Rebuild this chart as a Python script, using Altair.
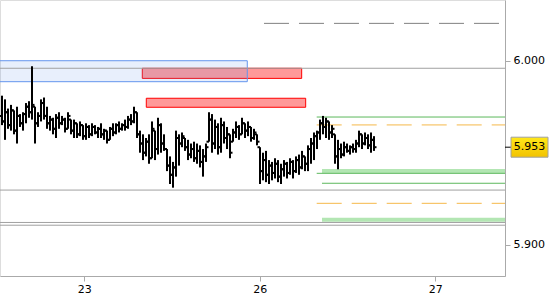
import altair as alt
import pandas as pd

# ---------------- data ----------------
# OHLC bars (intraday, evenly spaced in trading-day units; 0 = day "23")
bar_start = -0.46895
bar_step = 0.017094

highs = [5.981,5.979,5.974,5.976,5.973,5.975,5.971,5.972,5.977,5.978,
         5.997,5.975,5.972,5.979,5.980,5.975,5.970,5.969,5.971,5.972,
         5.970,5.969,5.972,5.968,5.968,5.966,5.967,5.965,5.966,5.965,
         5.966,5.965,5.964,5.966,5.963,5.962,5.964,5.966,5.966,5.967,
         5.966,5.968,5.970,5.971,5.975,5.972,5.962,5.960,5.958,5.960,
         5.967,5.962,5.969,5.966,5.960,5.952,5.948,5.945,5.962,5.960,
         5.961,5.958,5.957,5.955,5.956,5.955,5.954,5.952,5.955,5.972,
         5.971,5.968,5.966,5.969,5.967,5.964,5.960,5.963,5.967,5.965,
         5.969,5.966,5.967,5.964,5.963,5.960,5.953,5.950,5.951,5.946,
         5.945,5.947,5.946,5.944,5.946,5.945,5.947,5.946,5.948,5.949,
         5.951,5.948,5.954,5.958,5.961,5.962,5.968,5.970,5.969,5.967,
         5.965,5.960,5.957,5.955,5.956,5.955,5.954,5.955,5.957,5.962,
         5.960,5.961,5.960,5.961,5.959]

lows = [5.965,5.957,5.963,5.962,5.960,5.955,5.964,5.962,5.966,5.969,
        5.968,5.955,5.964,5.967,5.968,5.963,5.962,5.960,5.958,5.963,
        5.965,5.961,5.963,5.960,5.958,5.958,5.959,5.957,5.957,5.958,
        5.959,5.960,5.958,5.958,5.957,5.955,5.957,5.959,5.960,5.961,
        5.962,5.962,5.963,5.965,5.966,5.958,5.950,5.946,5.948,5.944,
        5.947,5.946,5.949,5.950,5.951,5.940,5.933,5.931,5.937,5.943,
        5.953,5.951,5.946,5.947,5.945,5.944,5.942,5.937,5.945,5.956,
        5.950,5.952,5.949,5.950,5.955,5.952,5.947,5.956,5.958,5.957,
        5.960,5.958,5.959,5.956,5.957,5.954,5.933,5.935,5.934,5.933,
        5.935,5.936,5.934,5.933,5.937,5.936,5.938,5.936,5.939,5.938,
        5.941,5.940,5.940,5.944,5.946,5.952,5.957,5.960,5.958,5.957,
        5.958,5.944,5.941,5.947,5.948,5.950,5.949,5.950,5.950,5.953,
        5.952,5.954,5.952,5.950,5.951]

opens = [5.970,5.967,5.972,5.965,5.973,5.962,5.970,5.966,5.971,5.975,
         5.972,5.975,5.966,5.970,5.977,5.970,5.966,5.968,5.963,5.969,
         5.966,5.968,5.963,5.968,5.962,5.966,5.960,5.965,5.959,5.964,
         5.960,5.964,5.961,5.963,5.960,5.962,5.957,5.963,5.961,5.965,
         5.963,5.965,5.964,5.968,5.967,5.972,5.960,5.955,5.950,5.956,
         5.947,5.962,5.952,5.965,5.955,5.952,5.943,5.938,5.942,5.958,
         5.955,5.958,5.953,5.949,5.952,5.947,5.951,5.945,5.948,5.956,
         5.968,5.955,5.964,5.953,5.965,5.958,5.960,5.956,5.961,5.964,
         5.960,5.966,5.962,5.964,5.958,5.960,5.953,5.940,5.946,5.938,
         5.943,5.939,5.944,5.937,5.941,5.944,5.939,5.945,5.940,5.946,
         5.942,5.948,5.944,5.952,5.955,5.959,5.961,5.966,5.964,5.967,
         5.961,5.960,5.948,5.952,5.949,5.953,5.951,5.953,5.952,5.955,
         5.960,5.955,5.958,5.954,5.957]

closes = [5.967,5.972,5.965,5.973,5.962,5.970,5.966,5.971,5.975,5.972,
          5.976,5.966,5.970,5.977,5.970,5.966,5.968,5.963,5.969,5.966,
          5.968,5.963,5.970,5.962,5.966,5.960,5.965,5.959,5.964,5.960,
          5.964,5.961,5.963,5.960,5.962,5.957,5.963,5.961,5.965,5.963,
          5.965,5.964,5.968,5.967,5.972,5.960,5.955,5.950,5.956,5.947,
          5.963,5.952,5.965,5.955,5.952,5.943,5.938,5.942,5.958,5.955,
          5.959,5.953,5.949,5.952,5.947,5.951,5.945,5.948,5.953,5.968,
          5.955,5.964,5.953,5.965,5.958,5.960,5.950,5.961,5.964,5.960,
          5.966,5.962,5.964,5.958,5.961,5.956,5.940,5.946,5.938,5.943,
          5.939,5.944,5.937,5.941,5.944,5.939,5.945,5.940,5.946,5.942,
          5.948,5.944,5.952,5.955,5.959,5.961,5.966,5.964,5.967,5.961,
          5.963,5.948,5.952,5.949,5.953,5.951,5.953,5.952,5.955,5.960,
          5.955,5.958,5.954,5.957,5.953]

# x axis (trading days, gaps removed)
day_ticks = [0, 1, 2]
day_labels = ["23", "26", "27"]
# y axis
price_ticks = [5.900, 6.000]
last_price = [5.953]

# full-width gray levels
gray_levels = [5.9959, 5.9297, 5.9121, 5.9106]
# gray dashed level (top)
gray_dash_y = [6.0203]
gray_dash_x = [1.0239]
# green levels
green_y = [5.9694, 5.9388, 5.9334]
green_x = [1.3242, 1.3242, 1.3544]
# orange dashed levels
orange_y = [5.9651, 5.9225]
orange_x = [1.3242, 1.3242]
# green zones
gzone_top = [5.9412, 5.9147]
gzone_bot = [5.9388, 5.9125]
gzone_x = [1.3544, 1.3544]
# red zones
rzone_top = [5.9959, 5.9796]
rzone_bot = [5.9904, 5.9747]
rzone_x1 = [0.3305, 0.3533]
rzone_x2 = [1.2387, 1.2615]
# blue zone
bzone_top = [6.0000]
bzone_bot = [5.9886]
bzone_x1 = [-0.6]
bzone_x2 = [0.9288]

X_MIN, X_MAX = -0.4803, 2.3972
Y_MIN, Y_MAX = 5.883, 6.033

# ---------------- frames ----------------
bars = pd.DataFrame({
    "t": [bar_start + i * bar_step for i in range(len(highs))],
    "o": opens, "h": highs, "l": lows, "c": closes,
})
gray_df = pd.DataFrame({"y": gray_levels})
gdash_df = pd.DataFrame({"y": gray_dash_y, "x1": gray_dash_x, "x2": [X_MAX] * len(gray_dash_y)})
green_df = pd.DataFrame({"y": green_y, "x1": green_x, "x2": [X_MAX] * len(green_y)})
orange_df = pd.DataFrame({"y": orange_y, "x1": orange_x, "x2": [X_MAX] * len(orange_y)})
gzone_df = pd.DataFrame({"y1": gzone_top, "y2": gzone_bot, "x1": gzone_x, "x2": [X_MAX] * len(gzone_x)})
rzone_df = pd.DataFrame({"y1": rzone_top, "y2": rzone_bot, "x1": rzone_x1, "x2": rzone_x2})
bzone_df = pd.DataFrame({"y1": bzone_top, "y2": bzone_bot, "x1": bzone_x1, "x2": bzone_x2})
last_df = pd.DataFrame({"p": last_price})

xs = alt.Scale(domain=[X_MIN, X_MAX], nice=False, zero=False)
ys = alt.Scale(domain=[Y_MIN, Y_MAX], nice=False, zero=False)

label_expr = "'" + day_labels[-1] + "'"
for v, lab in reversed(list(zip(day_ticks[:-1], day_labels[:-1]))):
    label_expr = f"datum.value == {v} ? '{lab}' : " + label_expr

AX = dict(domainColor="#aaaaaa", tickColor="#aaaaaa", tickSize=5, grid=False,
          labelFont="DejaVu Sans", labelFontSize=11, labelColor="#000000", title=None)
x_axis = alt.Axis(values=day_ticks, labelExpr=label_expr, orient="bottom", labelPadding=2, **AX)
y_axis = alt.Axis(values=price_ticks, format=".3f", orient="right", labelPadding=3, **AX)


def X(f):
    return alt.X(f, type="quantitative", scale=xs, axis=x_axis)


def Y(f):
    return alt.Y(f, type="quantitative", scale=ys, axis=y_axis)


red_zones = alt.Chart(rzone_df).mark_rect(
    fill="#ff0000", fillOpacity=0.4, stroke="#ff0000", strokeWidth=1
).encode(x=X("x1"), x2="x2", y=Y("y1"), y2="y2")

blue_zone = alt.Chart(bzone_df).mark_rect(
    fill="#6495ed", fillOpacity=0.15, stroke="#6495ed", strokeWidth=1, clip=True
).encode(x=X("x1"), x2="x2", y=Y("y1"), y2="y2")

green_zones = alt.Chart(gzone_df).mark_rect(fill="#b3e6b3").encode(
    x=X("x1"), x2="x2", y=Y("y1"), y2="y2")

gray_lines = alt.Chart(gray_df).mark_rule(color="#a0a0a0", strokeWidth=1).encode(y=Y("y"))

gray_dash = alt.Chart(gdash_df).mark_rule(color="#808080", strokeWidth=1, strokeDash=[25, 10]).encode(
    x=X("x1"), x2="x2", y=Y("y"))

green_lines = alt.Chart(green_df).mark_rule(color="#5cb85c", strokeWidth=1).encode(
    x=X("x1"), x2="x2", y=Y("y"))

orange_lines = alt.Chart(orange_df).mark_rule(color="#f5b84a", strokeWidth=1, strokeDash=[25, 10]).encode(
    x=X("x1"), x2="x2", y=Y("y"))

hl = alt.Chart(bars).mark_rule(color="#000000", strokeWidth=2).encode(
    x=X("t"), y=Y("l"), y2="h")
op = alt.Chart(bars).mark_rule(color="#000000", strokeWidth=2, x2Offset=-2.5).encode(
    x=X("t"), x2="t", y=Y("o"))
cl = alt.Chart(bars).mark_rule(color="#000000", strokeWidth=2, x2Offset=2.5).encode(
    x=X("t"), x2="t", y=Y("c"))

price_tick = alt.Chart(last_df).mark_rule(color="#000000", strokeWidth=1).encode(
    x=alt.value(505), x2=alt.value(511), y=Y("p"))
price_box = alt.Chart(last_df).mark_rect(
    fill=alt.LinearGradient(
        gradient="linear",
        stops=[alt.GradientStop(color="#ffe81a", offset=0),
               alt.GradientStop(color="#f2c200", offset=1)],
        x1=0, x2=0, y1=0, y2=1),
    stroke="#a0a0a0", strokeWidth=1, yOffset=-10, y2Offset=10,
).encode(x=alt.value(511), x2=alt.value(548), y=Y("p"), y2="p")
price_text = alt.Chart(last_df).mark_text(
    font="DejaVu Sans", fontSize=11, color="#000000", align="center", baseline="middle"
).encode(x=alt.value(529.5), y=Y("p"), text=alt.Text("p:Q", format=".3f"))

chart = alt.layer(
    red_zones, blue_zone, green_zones, gray_lines, gray_dash, green_lines, orange_lines,
    hl, op, cl, price_tick, price_box, price_text
).properties(
    width=505, height=276,
    padding={"left": 0, "top": 0, "right": 45, "bottom": 24},
    autosize=alt.AutoSizeParams(type="none"),
).configure_view(stroke=None).configure(background="#ffffff")

chart.save("out.html", embed_options={"renderer": "svg", "actions": False})
